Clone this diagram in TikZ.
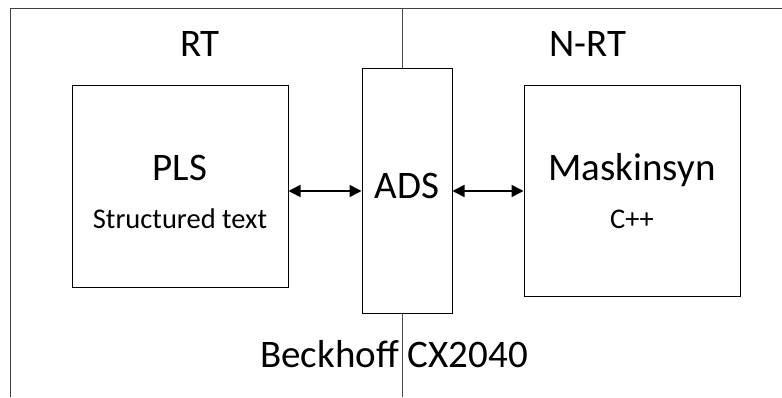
\documentclass[tikz,border=0pt]{standalone}
\usepackage{fontspec}
\setmainfont{Carlito}
\usepackage{tikz}
\usetikzlibrary{positioning,calc,arrows.meta}

\tikzset{
    blk/.style={draw, line width=1pt, minimum width=#1, inner sep=0pt},
    big/.style={font=\fontsize{39}{44}\selectfont, anchor=base},
    small/.style={font=\fontsize{28.5}{32}\selectfont, anchor=base},
    link/.style={line width=1.6pt, {Triangle[length=12pt,width=12pt]}-{Triangle[length=12pt,width=12pt]}}
}

\begin{document}
\begin{tikzpicture}[x=1pt, y=1pt]
    \useasboundingbox (0,0) rectangle (782,397);
    \draw[line width=1pt, black!75] (10,0) |- (782,388); % frame
    \node[blk=216pt, minimum height=201pt] (pls) at (180,210.5) {};
    \node[blk=90pt, minimum height=244pt] (ads) at (407,206) {};
    \node[blk=216pt, minimum height=210pt] (msyn) at (632,206) {};
    \coordinate (top) at (402.5,388); \coordinate (bot) at (402.5,0);
    \draw[line width=1.2pt, black!70] (top) -- (top |- ads.north); \draw[line width=1.2pt, black!70] (bot |- ads.south) -- (bot);
    \node[big] (rt) at (200,340) {RT}; \node[big] (nrt) at (588,340) {N-RT};
    \node[big] (plst) at (180,217) {PLS}; \node[small] (st) at (180,169) {Structured text};
    \node[big] (adst) at (407,199) {ADS};
    \node[big] (msynt) at (632,217) {Maskinsyn}; \node[small] (cpp) at (632,169) {C++};
    \node[big] (cx) at (394,30) {Beckhoff CX2040};
    \draw[line width=1.2pt, black!70] (cx.south -| bot) -- (cx.north -| bot);
    \draw[link] (ads.west -| pls.east) -- (ads.west); \draw[link] (ads.east) -- (ads.east -| msyn.west);
\end{tikzpicture}
\end{document}
